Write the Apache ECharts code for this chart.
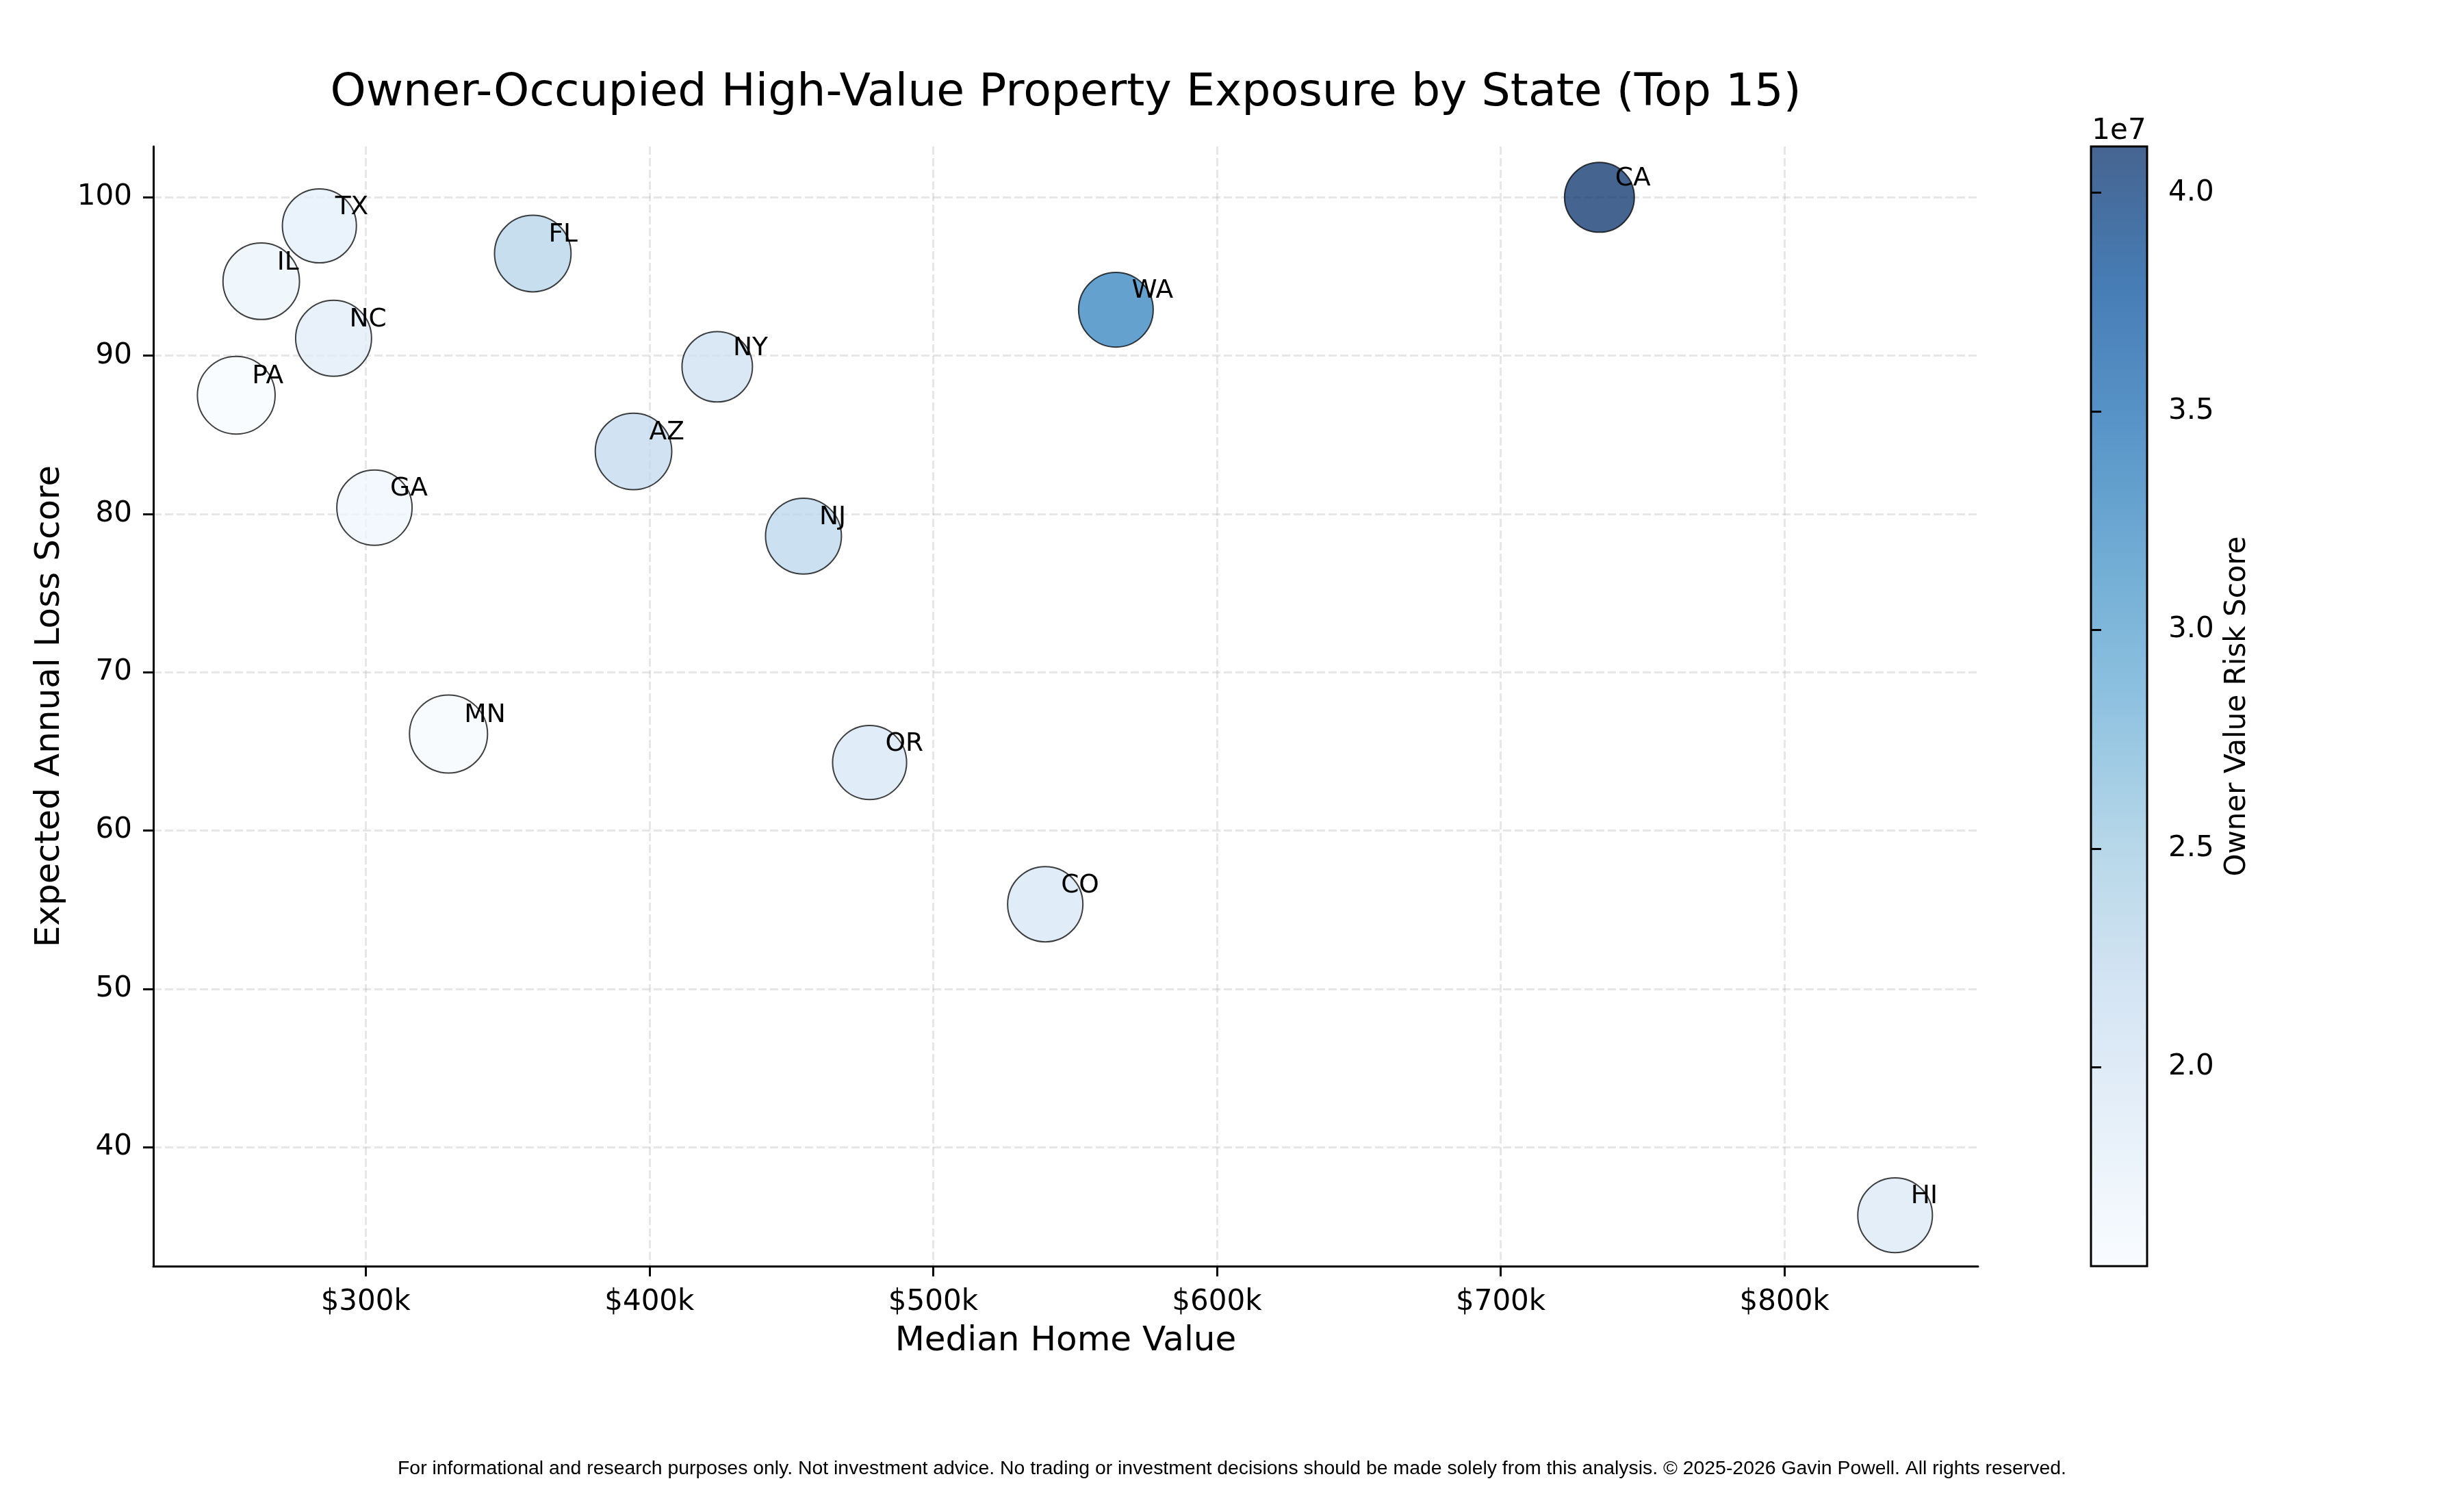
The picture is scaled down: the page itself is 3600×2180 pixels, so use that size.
<!DOCTYPE html>
<html>
<head>
<meta charset="utf-8">
<script src="https://cdn.jsdelivr.net/npm/echarts@6/dist/echarts.min.js"></script>
<style>
html,body{margin:0;padding:0;background:#ffffff;}
#chart{width:3600px;height:2180px;}
</style>
</head>
<body>
<div id="chart"></div>
<script>
// ---- Data ----
const states = ['CA','WA','FL','NJ','AZ','NY','CO','OR','HI','NC','TX','IL','GA','MN','PA'];
const medianHomeValue = [734800, 564400, 358900, 454300, 394400, 423900, 539500, 477600, 839000, 288700, 283700, 263200, 303100, 329200, 254400];
const expectedAnnualLoss = [100.0, 92.9, 96.45, 78.6, 83.95, 89.3, 55.35, 64.3, 35.7, 91.1, 98.2, 94.7, 80.4, 66.1, 87.5];
const ownerValueRisk = [4.106e7, 3.30e7, 2.33e7, 2.28e7, 2.22e7, 2.08e7, 1.98e7, 1.97e7, 1.92e7, 1.84e7, 1.80e7, 1.71e7, 1.66e7, 1.58e7, 1.545e7];
const bubbleWeight = [1.04, 1.19, 1.25, 1.23, 1.25, 1.06, 1.21, 1.17, 1.19, 1.23, 1.17, 1.25, 1.21, 1.30, 1.29];
const xTickValues = [300000, 400000, 500000, 600000, 700000, 800000];
const yTickValues = [40, 50, 60, 70, 80, 90, 100];
const colorbarTickValues = [2.0e7, 2.5e7, 3.0e7, 3.5e7, 4.0e7];

const titleText = 'Owner-Occupied High-Value Property Exposure by State (Top 15)';
const xLabel = 'Median Home Value';
const yLabel = 'Expected Annual Loss Score';
const cbLabel = 'Owner Value Risk Score';
const footerText = 'For informational and research purposes only. Not investment advice. No trading or investment decisions should be made solely from this analysis. \u00A9 2025-2026 Gavin Powell. All rights reserved.';

// ---- Styling ----
const FONT = 'DejaVu Sans';
const BLUES = ['#f7fbff','#deebf7','#c6dbef','#9ecae1','#6baed6','#4292c6','#2171b5','#08519c','#08306b'];
const ALPHA = 0.75;
function hexToRgba(h, a) {
  const r = parseInt(h.slice(1,3),16), g = parseInt(h.slice(3,5),16), b = parseInt(h.slice(5,7),16);
  return 'rgba(' + r + ',' + g + ',' + b + ',' + a + ')';
}
const BLUES_ALPHA = BLUES.map(c => hexToRgba(c, ALPHA));

function paddedExtent(arr, frac) {
  const mn = Math.min.apply(null, arr), mx = Math.max.apply(null, arr);
  const pad = (mx - mn) * frac;
  return [mn - pad, mx + pad];
}
const xExt = paddedExtent(medianHomeValue, 0.05);
const yExt = paddedExtent(expectedAnnualLoss, 0.05);
const cMin = Math.min.apply(null, ownerValueRisk);
const cMax = Math.max.apply(null, ownerValueRisk);

const points = states.map((s, i) => [medianHomeValue[i], expectedAnnualLoss[i], ownerValueRisk[i], bubbleWeight[i], s]);

const gridLine = { show: true, lineStyle: { color: 'rgba(176,176,176,0.3)', width: 3, type: [12, 5] } };

const chart = echarts.init(document.getElementById('chart'), null, { renderer: 'canvas' });

const option = {
  backgroundColor: '#ffffff',
  animation: false,
  textStyle: { fontFamily: FONT },
  title: [
    { text: titleText, left: 1557, top: 103, textAlign: 'center', padding: 0,
      textStyle: { fontFamily: FONT, fontSize: 66.5, fontWeight: 'normal', color: '#000' } },
    { text: footerText, left: 1800, top: 2132, textAlign: 'center', padding: 0,
      textStyle: { fontFamily: 'Liberation Sans', fontSize: 28.4, fontWeight: 'normal', color: '#000' } },
    { text: '1e7', left: 3096, top: 171, textAlign: 'center', padding: 0,
      textStyle: { fontFamily: FONT, fontSize: 42, fontWeight: 'normal', color: '#000' } }
  ],
  grid: [
    { left: 224, top: 214, width: 2666, height: 1636, containLabel: false },
    { left: 3055, top: 214, width: 82, height: 1636, containLabel: false, show: true,
      borderColor: '#000', borderWidth: 3,
      backgroundColor: new echarts.graphic.LinearGradient(0, 1, 0, 0,
        BLUES_ALPHA.map((c, i) => ({ offset: i / (BLUES_ALPHA.length - 1), color: c }))) }
  ],
  xAxis: [
    { type: 'value', gridIndex: 0, min: xExt[0], max: xExt[1],
      name: xLabel, nameLocation: 'middle', nameGap: 85,
      nameTextStyle: { fontFamily: FONT, fontSize: 50, color: '#000' },
      axisLine: { show: true, onZero: false, lineStyle: { color: '#000', width: 3 } },
      axisTick: { show: true, length: 15, lineStyle: { color: '#000', width: 3 }, customValues: xTickValues },
      axisLabel: { show: true, margin: 32, fontFamily: FONT, fontSize: 42, color: '#000',
        customValues: xTickValues, formatter: v => '$' + Math.round(v / 1000) + 'k' },
      splitLine: gridLine },
    { type: 'value', gridIndex: 1, min: 0, max: 1, show: false }
  ],
  yAxis: [
    { type: 'value', gridIndex: 0, min: yExt[0], max: yExt[1],
      name: yLabel, nameLocation: 'middle', nameGap: 126, nameRotate: 90,
      nameTextStyle: { fontFamily: FONT, fontSize: 50, color: '#000' },
      axisLine: { show: true, onZero: false, lineStyle: { color: '#000', width: 3 } },
      axisTick: { show: true, length: 15, lineStyle: { color: '#000', width: 3 }, customValues: yTickValues },
      axisLabel: { show: true, margin: 31, fontFamily: FONT, fontSize: 42, color: '#000',
        customValues: yTickValues, formatter: v => String(v) },
      splitLine: gridLine },
    { type: 'value', gridIndex: 1, min: cMin, max: cMax, position: 'right',
      name: cbLabel, nameLocation: 'middle', nameGap: 111, nameRotate: 90,
      nameTextStyle: { fontFamily: FONT, fontSize: 42, color: '#000' },
      axisLine: { show: false },
      axisTick: { show: true, length: 15, lineStyle: { color: '#000', width: 3 }, customValues: colorbarTickValues },
      axisLabel: { show: true, margin: 31, fontFamily: FONT, fontSize: 42, color: '#000',
        customValues: colorbarTickValues, formatter: v => (v / 1e7).toFixed(1) },
      splitLine: { show: false } }
  ],
  visualMap: {
    type: 'continuous', show: false, seriesIndex: 0, dimension: 2,
    min: cMin, max: cMax, inRange: { color: BLUES_ALPHA }
  },
  series: [
    {
      type: 'scatter', xAxisIndex: 0, yAxisIndex: 0,
      data: points,
      symbol: 'circle',
      symbolSize: v => 100 * Math.sqrt(v[3]),
      itemStyle: { opacity: 1, borderColor: 'rgba(0,0,0,0.75)', borderWidth: 2 },
      emphasis: { disabled: true },
      label: {
        show: true, position: 'inside', align: 'left', verticalAlign: 'middle',
        offset: [23, -27], formatter: p => p.data[4],
        fontFamily: FONT, fontSize: 37.5, color: '#000'
      },
      z: 3
    }
  ]
};
chart.setOption(option);
</script>
</body>
</html>
